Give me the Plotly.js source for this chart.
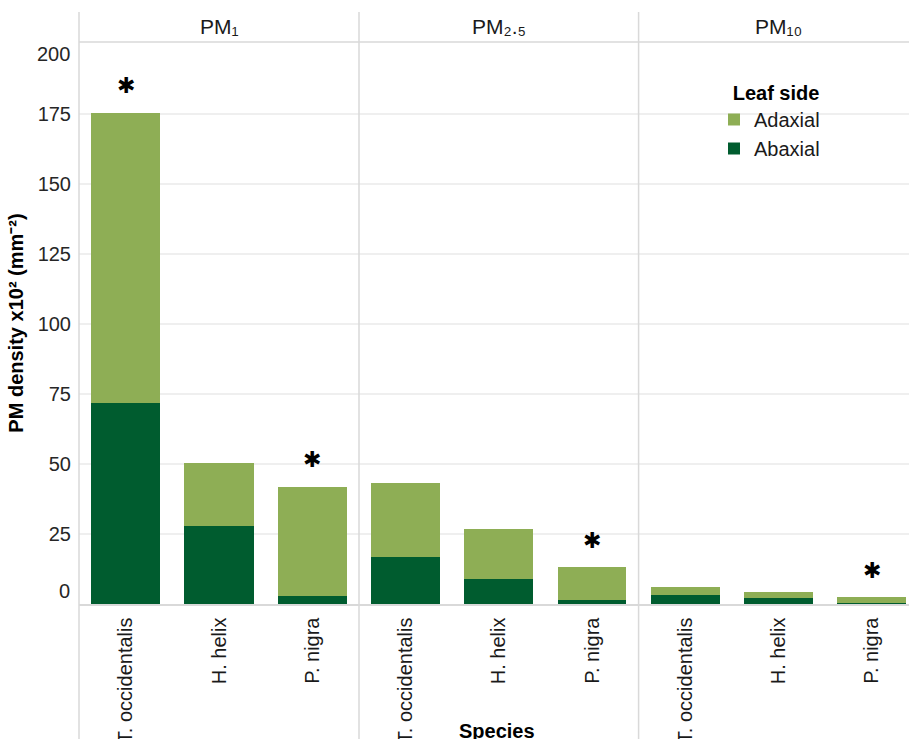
<!DOCTYPE html>
<html><head><meta charset="utf-8">
<script src="https://cdn.plot.ly/plotly-3.0.1.min.js"></script>
<style>html,body{margin:0;padding:0;background:#fff}</style>
</head><body><div id="chart" style="width:909px;height:739px"></div>
<script>
const species = ['T. occidentalis', 'H. helix', 'P. nigra'];
const fractions = ['PM₁', 'PM₂.₅', 'PM₁₀'];
const abaxialPM1 = [71.7, 28.0, 2.9];
const abaxialPM25 = [16.7, 8.9, 1.4];
const abaxialPM10 = [3.1, 2.0, 0.5];
const adaxialPM1 = [103.8, 22.5, 39.0];
const adaxialPM25 = [26.4, 18.0, 11.7];
const adaxialPM10 = [3.1, 2.4, 2.0];
const significantPM1 = [true, false, true];
const significantPM25 = [false, false, true];
const significantPM10 = [false, false, true];
const yTicks = [0, 25, 50, 75, 100, 125, 150, 175, 200];

const abaxialSets = [abaxialPM1, abaxialPM25, abaxialPM10];
const adaxialSets = [adaxialPM1, adaxialPM25, adaxialPM10];
const sigSets = [significantPM1, significantPM25, significantPM10];

const LIGHT = '#8EAE55', DARK = '#005C2F', GRID = '#d9d9d9';
const FONT = 'Liberation Sans, Arial, sans-serif';
const W = 830, H = 562;           // plot area px
const d1 = 280 / W, d2 = 559.6 / W;
const xaxisNames = ['x', 'x2', 'x3'];

const traces = [];
const annotations = [];
fractions.forEach((f, i) => {
  traces.push({
    type: 'bar', name: 'Abaxial', x: species, y: abaxialSets[i],
    xaxis: xaxisNames[i], yaxis: 'y', marker: {color: DARK, line: {width: 0}},
    legendgroup: 'ab', showlegend: i === 0, hoverinfo: 'x+y+name'
  });
  traces.push({
    type: 'bar', name: 'Adaxial', x: species, y: adaxialSets[i],
    xaxis: xaxisNames[i], yaxis: 'y', marker: {color: LIGHT, line: {width: 0}},
    legendgroup: 'ad', showlegend: i === 0, hoverinfo: 'x+y+name'
  });
  species.forEach((s, j) => {
    if (sigSets[i][j]) {
      annotations.push({
        xref: xaxisNames[i], yref: 'y', x: s, y: abaxialSets[i][j] + adaxialSets[i][j],
        text: '✱', showarrow: false, yanchor: 'middle', yshift: 27,
        font: {family: 'DejaVu Sans', size: 22, color: '#000'}
      });
    }
  });
});

// strip titles
const domains = [[0, d1], [d1, d2], [d2, (559.6 + 280) / W]];
fractions.forEach((f, i) => {
  annotations.push({
    xref: 'paper', yref: 'paper', x: (domains[i][0] + domains[i][1]) / 2, y: 1 + 15 / H,
    text: f, showarrow: false, xanchor: 'center', yanchor: 'middle',
    font: {family: FONT, size: 21, color: '#1a1a1a'}
  });
});
// clamped end tick labels
annotations.push({xref: 'paper', yref: 'y', x: 0, y: yTicks[0], text: String(yTicks[0]),
  showarrow: false, xanchor: 'right', yanchor: 'middle', xshift: -7, yshift: 13,
  font: {family: FONT, size: 20, color: '#262626'}});
annotations.push({xref: 'paper', yref: 'y', x: 0, y: yTicks[yTicks.length - 1], text: String(yTicks[yTicks.length - 1]),
  showarrow: false, xanchor: 'right', yanchor: 'middle', xshift: -7, yshift: -10,
  font: {family: FONT, size: 20, color: '#262626'}});
// x axis title
annotations.push({xref: 'paper', yref: 'paper', x: (497 - 79) / W, y: -(731 - 604) / H,
  text: '<b>Species</b>', showarrow: false, xanchor: 'center', yanchor: 'middle',
  font: {family: FONT, size: 20, color: '#000'}});

const midTicks = yTicks.slice(1, -1);
const xCommon = {
  type: 'category', tickangle: -90, showgrid: false, zeroline: false,
  showline: true, linecolor: GRID, linewidth: 1.5, ticks: '',
  tickfont: {family: FONT, size: 20, color: '#1a1a1a'}, automargin: false,
  ticklabelstandoff: 4, fixedrange: true
};
const shapes = [0, d1, d2].map(x => ({
  type: 'line', xref: 'paper', yref: 'paper', x0: x, x1: x, y0: -(739 - 604) / H, y1: 1 + 30 / H,
  line: {color: GRID, width: 1.5}
}));
shapes.push({type: 'line', xref: 'paper', yref: 'paper', x0: 0, x1: 1.02, y0: 1, y1: 1,
  line: {color: GRID, width: 1.5}});

const layout = {
  width: 909, height: 739,
  margin: {l: 79, r: 0, t: 42, b: 135, pad: 0},
  paper_bgcolor: '#fff', plot_bgcolor: '#fff',
  barmode: 'stack', bargap: 0.26,
  font: {family: FONT, color: '#1a1a1a'},
  xaxis: Object.assign({}, xCommon, {domain: [0, d1], range: [-0.5, 2.5], anchor: 'y'}),
  xaxis2: Object.assign({}, xCommon, {domain: [d1, d2], range: [-0.5, 2.5], anchor: 'y'}),
  xaxis3: Object.assign({}, xCommon, {domain: [d2, 1], range: [-0.5, -0.5 + 3 * (W - 559.6) / 280], anchor: 'y'}),
  yaxis: {
    domain: [0, 1], range: [0, 200.7], anchor: 'x',
    tickvals: midTicks, ticktext: midTicks.map(String),
    showgrid: true, gridcolor: '#efefef', gridwidth: 1.5, zeroline: false, showline: false,
    ticks: '', ticklabelstandoff: 7, automargin: false, fixedrange: true,
    tickfont: {family: FONT, size: 20, color: '#262626'},
    title: {text: 'PM density x10² (mm⁻²)', standoff: 8, font: {family: FONT, size: 20, color: '#000', weight: 'bold'}}
  },
  legend: {
    x: (714 - 79) / W, y: 1 - (74 - 42) / H, xanchor: 'left', yanchor: 'top',
    bgcolor: 'rgba(0,0,0,0)', borderwidth: 0,
    title: {text: '\u00a0\u00a0\u00a0Leaf side', font: {family: FONT, size: 20, color: '#000', weight: 'bold'}},
    font: {family: FONT, size: 20, color: '#1a1a1a'}, traceorder: 'reversed'
  },
  annotations: annotations,
  shapes: shapes,
  showlegend: true
};
Plotly.newPlot('chart', traces, layout, {displayModeBar: false, staticPlot: true});
</script>
</body></html>
